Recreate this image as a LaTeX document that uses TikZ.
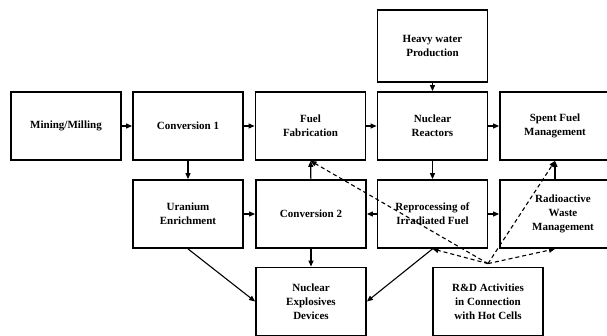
\documentclass[tikz,border=0pt]{standalone}
\usepackage{fontspec}
\setmainfont{Liberation Serif}
\usetikzlibrary{arrows.meta}
\begin{document}
\begin{tikzpicture}[x=1pt,y=-1pt,
    box/.style={draw,line width=1.8pt,minimum width=110pt,minimum height=68pt,
      align=center,inner sep=2pt,font=\fontsize{11}{14}\selectfont\bfseries},
    arr/.style={line width=1.1pt,-{Triangle[length=6pt,width=5pt]}},
    dasharr/.style={line width=1.1pt,dash pattern=on 4pt off 3pt,-{Triangle[length=6pt,width=5pt]}}]
    \useasboundingbox (0,0) rectangle (607,336);
    \clip (0,0) rectangle (607,336);

    % Top row
    \node[box,minimum height=72pt] (heavy) at (432.5,46) {Heavy water\\Production};

    % Main fuel line
    \node[box] (mining) at (66,126) {Mining/Milling};
    \node[box] (conv1) at (188,126) {Conversion 1};
    \node[box] (fab) at (310.5,126) {Fuel\\Fabrication};
    \node[box] (reactor) at (432.5,126) {Nuclear\\Reactors};
    \node[box] (spent) at (555,126) {Spent Fuel\\Management};

    % Second row
    \node[box] (enrich) at (188,214) {Uranium\\Enrichment};
    \node[box] (conv2) at (311,214) {Conversion 2};
    \node[box] (reproc) at (432.5,214) {Reprocessing of\\Irradiated Fuel};
    \node[box,minimum width=126pt] (waste) at (563,214) {Radioactive\\Waste\\Management};

    % Bottom row
    \node[box] (explosive) at (311,301.5) {Nuclear\\Explosives\\Devices};
    \node[box] (hotcell) at (488,301.5) {R\&D Activities\\in Connection\\with Hot Cells};

    % Solid flows
    \draw[arr] (mining) -- (conv1);
    \draw[arr] (conv1) -- (fab);
    \draw[arr] (fab) -- (reactor);
    \draw[arr] (reactor) -- (spent);
    \draw[arr] (heavy) -- (reactor);
    \draw[arr] (conv1) -- (enrich);
    \draw[arr] (enrich) -- (conv2);
    \draw[arr] (conv2) -- (fab);
    \draw[arr] (reactor) -- (reproc);
    \draw[arr] (reproc) -- (conv2);
    \draw[arr] (reproc) -- (waste);
    \draw[arr] (spent.south |- waste.north) -- (spent.south);
    \draw[arr] (conv2) -- (explosive);
    \draw[arr] (enrich.south) -- (explosive.west);
    \draw[arr] (reproc.south) -- (explosive.east);

    % Dashed links from hot cells
    \coordinate (hub) at ([yshift=3pt]hotcell.north);
    \foreach \t in {fab.south,reproc.south,spent.south}
      \draw[dasharr] (hub) -- (\t);
    \draw[dasharr] (hub) -- (spent.south |- waste.south);
\end{tikzpicture}
\end{document}
